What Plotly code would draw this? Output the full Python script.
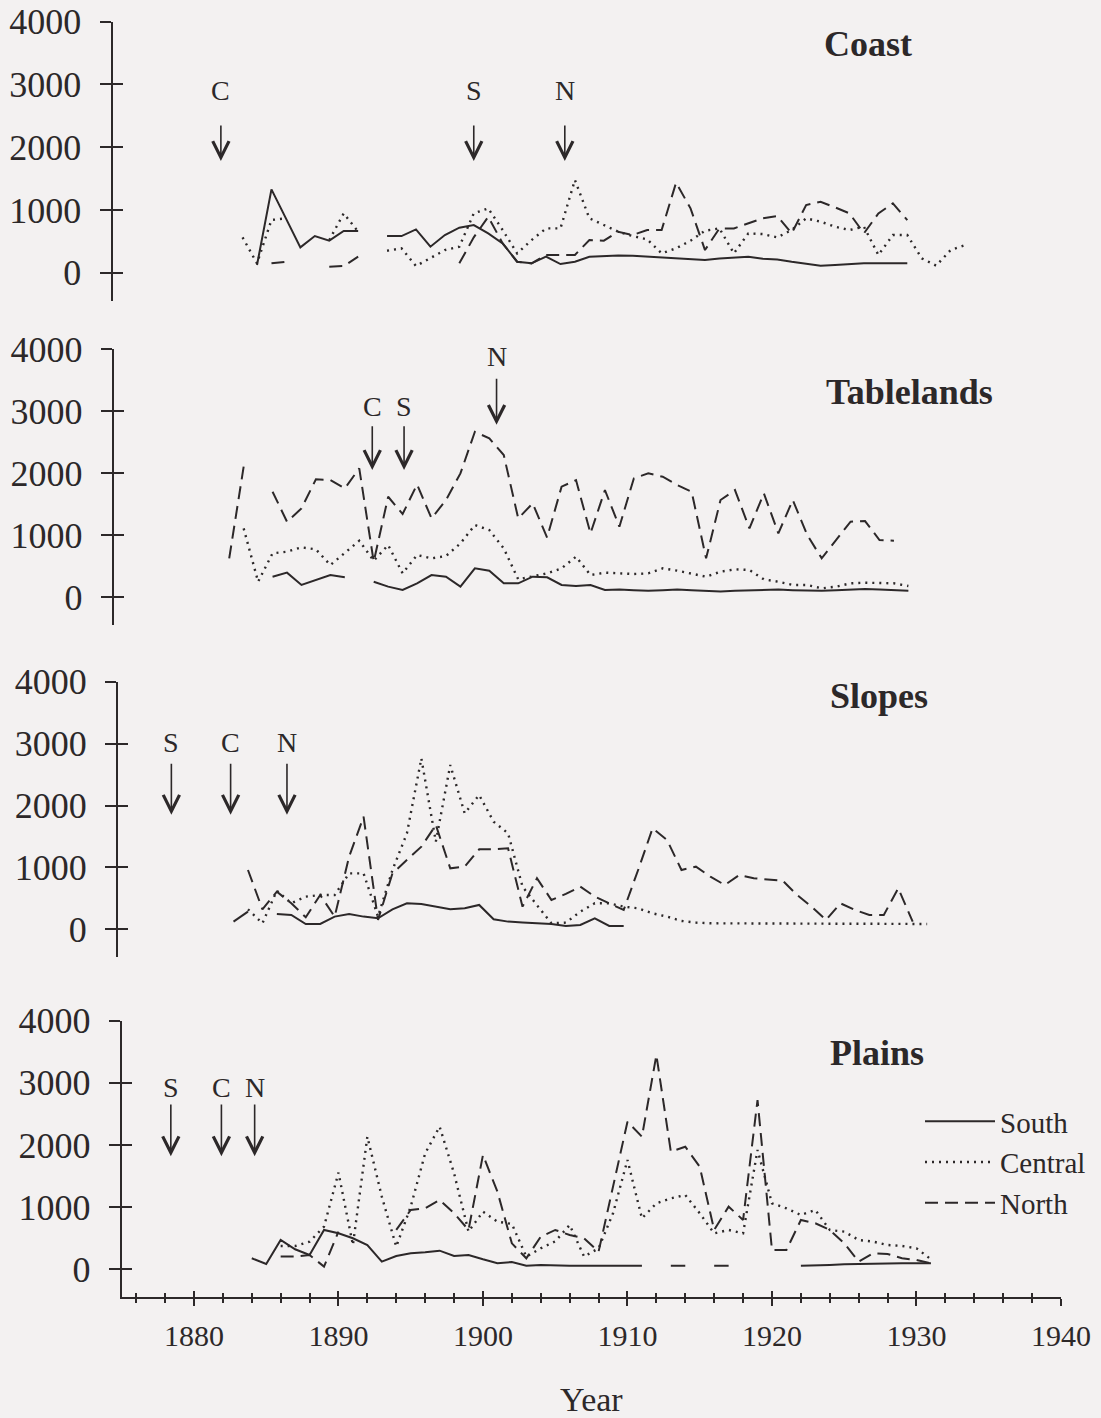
import plotly.graph_objects as go

# ---------------- data ----------------
coast_south_years = list(range(1885, 1931))
coast_south = [122, 1328, 866, 404, 584, 510, 664, 664, None, 584, 584, 690, 414, 600, 717, 760,
               627, 467, 175, 149, 255, 138, 175, 255, 266, 276, 271, 255, 239, 228, 218, 202,
               228, 244, 255, 223, 212, 175, 138, 112, 122, 138, 149, 149, 149, 149]
coast_central_years = list(range(1884, 1935))
coast_central = [563, 149, 840, 866, None, None, 520, 945, 653, None, 350, 388, 106, 228, 361, 414,
                 945, 1025, 680, 308, 520, 706, 706, 1477, 866, 760, 653, 584, 531, 308, 388, 510,
                 669, 706, 308, 627, 616, 563, 680, 866, 813, 733, 680, 733, 282, 600, 600, 228,
                 112, 361, 441]
coast_north_years = list(range(1886, 1931))
coast_north = [149, 175, None, None, 96, 106, 255, None, None, None, None, None, None, 149, 563,
               892, 467, 175, 149, 282, 282, 282, 520, 510, 653, 600, 680, 680, 1434, 1025, 361,
               706, 706, 786, 866, 903, 627, 1078, 1131, 1041, 945, 627, 945, 1105, 839]

table_south_years = list(range(1886, 1931))
table_south = [328, 393, 194, 274, 355, 318, None, 247, 167, 113, 221, 355, 328, 167, 463, 425,
               221, 221, 328, 318, 194, 178, 194, 113, 120, 110, 100, 110, 120, 110, 100, 90,
               100, 110, 120, 120, 110, 100, 100, 110, 120, 130, 120, 110, 100]
table_central_years = list(range(1884, 1931))
table_central = [1108, 247, 705, 732, 802, 769, 516, 705, 909, 586, 839, 382, 678, 624, 662, 866,
                 1162, 1081, 785, 285, 328, 382, 463, 651, 355, 393, 382, 371, 382, 463, 425, 382,
                 328, 409, 447, 436, 285, 247, 194, 194, 140, 167, 221, 231, 221, 221, 178]
table_north_years = list(range(1883, 1930))
table_north = [624, 2104, None, 1700, 1216, 1431, 1900, 1889, 1754, 2077, 570, 1619, 1340, 1818,
               1270, 1566, 1996, 2668, 2561, 2292, 1270, 1512, 960, 1781, 1888, 1028, 1727, 1135,
               1915, 1996, 1942, 1808, 1700, 624, 1566, 1727, 1108, 1673, 1028, 1566, 1001, 624,
               920, 1216, 1227, 920, 909]

slopes_south_years = list(range(1883, 1911))
slopes_south = [124, 285, None, 248, 231, 86, 86, 205, 248, 205, 178, 323, 420, 409, 366, 323,
                339, 393, 161, 124, 108, 97, 86, 54, 70, 178, 54, 54]
slopes_central_years = list(range(1884, 1932))
slopes_central = [323, 97, 624, 420, 528, 554, 554, 904, 904, 205, 958, 1550, 2761, 1416, 2654,
                  1873, 2169, 1739, 1550, 689, 390, 97, 108, 285, 420, 420, 366, 339, 258, 205,
                  135, 108, 97, 95, 95, 95, 92, 92, 92, 92, 90, 90, 90, 90, 88, 88, 88, 86]
slopes_north_years = list(range(1884, 1931))
slopes_north = [958, 323, 608, 420, 194, 554, 205, 1173, 1819, 151, 904, 1120, 1335, 1685, 985,
                1012, 1292, 1292, 1308, 366, 824, 474, 571, 689, 528, 420, 312, 958, 1631, 1443,
                958, 1012, 850, 716, 877, 824, 807, 786, 554, 366, 151, 420, 312, 231, 231, 662, 124]

plains_south_years = list(range(1884, 1932))
plains_south = [177, 86, 472, 322, 231, 633, 579, 499, 391, 123, 214, 257, 273, 300, 214, 231,
                161, 97, 118, 59, 70, 59, 59, 59, 59, 59, 59, 59, None, 59, 59, None, 59, 59,
                None, None, None, None, 59, 59, 70, 80, 86, 86, 91, 97, 97, 97]
plains_central_years = list(range(1886, 1932))
plains_central = [375, 375, 445, 686, 1555, 391, 2134, 1169, 365, 1008, 1866, 2295, 1544, 606,
                  928, 767, 729, 204, 338, 450, 713, 204, 338, 901, 1759, 820, 1062, 1142, 1196,
                  901, 579, 633, 579, 1920, 1062, 981, 874, 954, 633, 606, 472, 445, 391, 375,
                  338, 161]
plains_north_years = list(range(1886, 1932))
plains_north = [204, 204, 231, 43, 606, None, None, None, 633, 954, 981, 1115, 901, 633, 1839,
                1249, 418, 177, 525, 633, 552, 499, 284, 1330, 2375, 2134, 3448, 1893, 1973, 1651,
                633, 1008, 794, 2724, 311, 311, 794, 740, 633, 418, 123, 257, 247, 177, 150, 97]

panel_names = ["Coast", "Tablelands", "Slopes", "Plains"]
series_names = ["South", "Central", "North"]

# arrows: letter, year, letter height, arrow tail, arrow tip (y units)
coast_arrows = [("C", 1882.5, 2910, 2370, 1780), ("S", 1900.0, 2910, 2370, 1780),
                ("N", 1906.3, 2910, 2370, 1780)]
table_arrows = [("C", 1892.9, 3070, 2780, 2050), ("S", 1895.1, 3070, 2780, 2050),
                ("N", 1901.5, 3880, 3550, 2780)]
slopes_arrows = [("S", 1878.7, 3010, 2700, 1850), ("C", 1882.8, 3010, 2700, 1850),
                 ("N", 1886.7, 3010, 2700, 1850)]
plains_arrows = [("S", 1878.4, 2930, 2675, 1820), ("C", 1881.9, 2930, 2675, 1820),
                 ("N", 1884.2, 2930, 2675, 1820)]

title_pos = [(1927.3, 3645), (1930.1, 3310), (1927.7, 3770), (1927.3, 3480)]

x_ticks_major = [1880, 1890, 1900, 1910, 1920, 1930, 1940]
y_ticks = [0, 1000, 2000, 3000, 4000]

# ---------------- layout geometry ----------------
W, H = 1101, 1418
INK = "#2c2829"
BG = "#f3f1f1"
FONT = "Liberation Serif"
XR = [1875, 1940]
YR = [-445, 4000]
XSPAN = 939.3
# (pixel of 4000, pixel of 0, pixel of left axis) per panel
geom = [(21.7, 272.7, 112.5), (349.3, 597.0, 113.6), (681.7, 929.3, 117.9), (1020.7, 1269.3, 121.7)]

panels = [
    (coast_south_years, coast_south, coast_central_years, coast_central, coast_north_years, coast_north, coast_arrows),
    (table_south_years, table_south, table_central_years, table_central, table_north_years, table_north, table_arrows),
    (slopes_south_years, slopes_south, slopes_central_years, slopes_central, slopes_north_years, slopes_north, slopes_arrows),
    (plains_south_years, plains_south, plains_central_years, plains_central, plains_north_years, plains_north, plains_arrows),
]

styles = [dict(dash="solid", width=2.0), dict(dash="2px,5px", width=2.4), dict(dash="13px,7px", width=2.0)]

fig = go.Figure()
annotations = []
layout = {}

for i, (sy, sv, cy, cv, ny, nv, arrows) in enumerate(panels):
    k = i + 1
    xa, ya = f"x{k}", f"y{k}"
    top, zero, left = geom[i]
    bottom = zero + (-YR[0]) * (zero - top) / 4000.0
    ydom = [1 - bottom / H, 1 - top / H]
    xdom = [left / W, (left + XSPAN) / W]

    for (yrs, vals), name, st in zip([(sy, sv), (cy, cv), (ny, nv)], series_names, styles):
        fig.add_trace(go.Scatter(
            x=yrs, y=vals, mode="lines", name=name, xaxis=xa, yaxis=ya,
            line=dict(color=INK, width=st["width"], dash=st["dash"]),
            showlegend=(i == 3), legendrank={"South": 1, "Central": 2, "North": 3}[name],
        ))
    # invisible helper trace so the inner-tick overlay axis is drawn
    fig.add_trace(go.Scatter(x=sy, y=sv, mode="lines", xaxis=xa, yaxis=f"y{k + 4}",
                             line=dict(width=0), opacity=0, showlegend=False, hoverinfo="skip"))

    is_bottom = (i == 3)
    layout[f"xaxis{k}"] = dict(
        domain=xdom, range=XR, anchor=ya, showgrid=False, zeroline=False,
        showline=is_bottom, linecolor=INK, linewidth=2,
        ticks="outside" if is_bottom else "", tickvals=x_ticks_major if is_bottom else [],
        ticklen=7, tickwidth=1.8, tickcolor=INK,
        showticklabels=is_bottom, automargin=False,
        tickfont=dict(family=FONT, size=30, color=INK), ticklabelstandoff=4,
        minor=dict(dtick=2, tick0=1876, ticks="outside" if is_bottom else "", ticklen=4,
                   tickwidth=1.5, tickcolor=INK, showgrid=False),
    )
    if is_bottom:
        layout[f"xaxis{k}"]["title"] = dict(text="Year", font=dict(family=FONT, size=34, color=INK), standoff=40)

    layout[f"yaxis{k}"] = dict(
        domain=ydom, range=YR, anchor=xa, showgrid=False, zeroline=False,
        showline=True, linecolor=INK, linewidth=2,
        ticks="outside", tickvals=y_ticks, ticktext=[str(v) for v in y_ticks],
        ticklen=11, tickwidth=1.8, tickcolor=INK, automargin=False,
        tickfont=dict(family=FONT, size=36, color=INK), ticklabelstandoff=11,
    )
    layout[f"yaxis{k + 4}"] = dict(
        overlaying=ya, anchor=xa, range=YR, side="left", showgrid=False, zeroline=False,
        showline=False, ticks="inside", tickvals=y_ticks, ticklen=10, tickwidth=1.8,
        tickcolor=INK, showticklabels=False, automargin=False,
    )

    # panel title
    tx, ty = title_pos[i]
    annotations.append(dict(x=tx, y=ty, xref=xa, yref=ya, text=f"<b>{panel_names[i]}</b>",
                            showarrow=False, font=dict(family=FONT, size=36, color=INK)))
    # arrows with letters
    for letter, yr, ly, tail, tip in arrows:
        annotations.append(dict(x=yr, y=ly, xref=xa, yref=ya, text=letter, showarrow=False,
                                font=dict(family=FONT, size=28, color=INK)))
        annotations.append(dict(x=yr, y=tip, ax=yr, ay=tail, xref=xa, yref=ya, axref=xa, ayref=ya,
                                text="", showarrow=True, arrowhead=5, arrowsize=2.0,
                                arrowwidth=1.6, arrowcolor=INK, standoff=0))

# inner half of bottom x-axis ticks
fig.add_trace(go.Scatter(x=plains_south_years, y=plains_south, mode="lines", xaxis="x9", yaxis="y4",
                         line=dict(width=0), opacity=0, showlegend=False, hoverinfo="skip"))
layout["xaxis9"] = dict(
    overlaying="x4", anchor="y4", range=XR, showgrid=False, zeroline=False, showline=False,
    ticks="inside", tickvals=x_ticks_major, ticklen=6, tickwidth=1.8, tickcolor=INK,
    showticklabels=False, automargin=False,
    minor=dict(dtick=2, tick0=1876, ticks="inside", ticklen=4, tickwidth=1.5, tickcolor=INK, showgrid=False),
)

fig.update_layout(
    width=W, height=H, margin=dict(l=0, r=0, t=0, b=0),
    paper_bgcolor=BG, plot_bgcolor="rgba(0,0,0,0)",
    font=dict(family=FONT, color=INK),
    annotations=annotations,
    legend=dict(x=920 / W, y=1 - 1096 / H, xanchor="left", yanchor="top",
                font=dict(family=FONT, size=29, color=INK), bgcolor="rgba(0,0,0,0)",
                itemwidth=70, tracegroupgap=0, traceorder="normal"),
    showlegend=True,
    **layout,
)

fig.write_html("out.html", config={"displayModeBar": False},
               post_script="document.body.style.margin='0';document.body.style.overflow='hidden';"
                           "document.body.style.background='" + BG + "';")
